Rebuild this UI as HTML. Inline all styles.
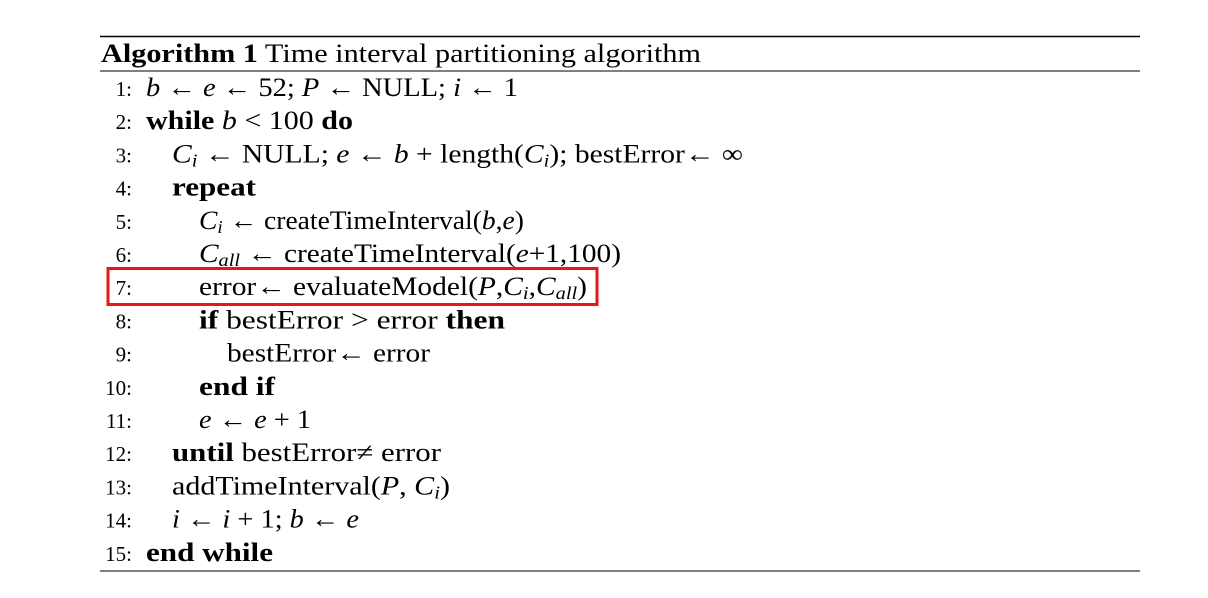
<!DOCTYPE html>
<html><head><meta charset="utf-8"><style>
html,body{margin:0;padding:0;background:#fff;width:1208px;height:598px;overflow:hidden}
svg{display:block}
text{font-family:"Liberation Serif",serif;fill:#000}
.num{font-size:21px}
.ln{font-size:26px}
</style></head><body>
<svg width="1208" height="598" viewBox="0 0 1208 598">
<line x1="100" y1="36.5" x2="1140" y2="36.5" stroke="#000" stroke-width="1.6"/>
<text x="101" y="62" class="ln" textLength="600" lengthAdjust="spacingAndGlyphs"><tspan font-weight="bold">Algorithm 1</tspan> Time interval partitioning algorithm</text>
<line x1="100" y1="71" x2="1140" y2="71" stroke="#000" stroke-width="1"/>

<g>
<text class="num" x="132" y="96" text-anchor="end">1:</text>
<text class="num" x="132" y="129.2" text-anchor="end">2:</text>
<text class="num" x="132" y="162.4" text-anchor="end">3:</text>
<text class="num" x="132" y="195.6" text-anchor="end">4:</text>
<text class="num" x="132" y="228.8" text-anchor="end">5:</text>
<text class="num" x="132" y="262" text-anchor="end">6:</text>
<text class="num" x="132" y="295.2" text-anchor="end">7:</text>
<text class="num" x="132" y="328.4" text-anchor="end">8:</text>
<text class="num" x="132" y="361.6" text-anchor="end">9:</text>
<text class="num" x="132" y="394.8" text-anchor="end">10:</text>
<text class="num" x="132" y="428" text-anchor="end">11:</text>
<text class="num" x="132" y="461.2" text-anchor="end">12:</text>
<text class="num" x="132" y="494.4" text-anchor="end">13:</text>
<text class="num" x="132" y="527.6" text-anchor="end">14:</text>
<text class="num" x="132" y="560.8" text-anchor="end">15:</text>
</g>

<text class="ln" x="146" y="96" textLength="372" lengthAdjust="spacingAndGlyphs"><tspan font-style="italic">b</tspan> ← <tspan font-style="italic">e</tspan> ← 52; <tspan font-style="italic">P</tspan> ← NULL; <tspan font-style="italic">i</tspan> ← 1</text>
<text class="ln" x="146" y="129.2" textLength="207" lengthAdjust="spacingAndGlyphs"><tspan font-weight="bold">while</tspan> <tspan font-style="italic">b</tspan> &lt; 100 <tspan font-weight="bold">do</tspan></text>
<text class="ln" x="172" y="162.4" textLength="571" lengthAdjust="spacingAndGlyphs"><tspan font-style="italic">C<tspan font-size="18" dy="4">i</tspan></tspan><tspan dy="-4"> ← NULL; </tspan><tspan font-style="italic">e</tspan> ← <tspan font-style="italic">b</tspan> + length(<tspan font-style="italic">C<tspan font-size="18" dy="4">i</tspan></tspan><tspan dy="-4">); bestError← ∞</tspan></text>
<text class="ln" x="172" y="195.6" textLength="84" lengthAdjust="spacingAndGlyphs" font-weight="bold">repeat</text>
<text class="ln" x="199" y="228.8" textLength="325" lengthAdjust="spacingAndGlyphs"><tspan font-style="italic">C<tspan font-size="18" dy="4">i</tspan></tspan><tspan dy="-4"> ← createTimeInterval(</tspan><tspan font-style="italic">b</tspan>,<tspan font-style="italic">e</tspan>)</text>
<text class="ln" x="199" y="262" textLength="422" lengthAdjust="spacingAndGlyphs"><tspan font-style="italic">C<tspan font-size="18" dy="4">all</tspan></tspan><tspan dy="-4"> ← createTimeInterval(</tspan><tspan font-style="italic">e</tspan>+1,100)</text>
<text class="ln" x="199" y="295.2" textLength="388" lengthAdjust="spacingAndGlyphs">error← evaluateModel(<tspan font-style="italic">P</tspan>,<tspan font-style="italic">C<tspan font-size="18" dy="4">i</tspan></tspan><tspan dy="-4">,</tspan><tspan font-style="italic">C<tspan font-size="18" dy="4">all</tspan></tspan><tspan dy="-4">)</tspan></text>
<text class="ln" x="199" y="328.4" textLength="306" lengthAdjust="spacingAndGlyphs"><tspan font-weight="bold">if</tspan> bestError &gt; error <tspan font-weight="bold">then</tspan></text>
<text class="ln" x="227" y="361.6" textLength="203" lengthAdjust="spacingAndGlyphs">bestError← error</text>
<text class="ln" x="199" y="394.8" textLength="76" lengthAdjust="spacingAndGlyphs" font-weight="bold">end if</text>
<text class="ln" x="199" y="428" textLength="112" lengthAdjust="spacingAndGlyphs"><tspan font-style="italic">e</tspan> ← <tspan font-style="italic">e</tspan> + 1</text>
<text class="ln" x="172" y="461.2" textLength="269" lengthAdjust="spacingAndGlyphs"><tspan font-weight="bold">until</tspan> bestError≠ error</text>
<text class="ln" x="172" y="494.4" textLength="278" lengthAdjust="spacingAndGlyphs">addTimeInterval(<tspan font-style="italic">P</tspan>, <tspan font-style="italic">C<tspan font-size="18" dy="4">i</tspan></tspan><tspan dy="-4">)</tspan></text>
<text class="ln" x="172" y="527.6" textLength="187" lengthAdjust="spacingAndGlyphs"><tspan font-style="italic">i</tspan> ← <tspan font-style="italic">i</tspan> + 1; <tspan font-style="italic">b</tspan> ← <tspan font-style="italic">e</tspan></text>
<text class="ln" x="146" y="560.8" textLength="127" lengthAdjust="spacingAndGlyphs" font-weight="bold">end while</text>

<rect x="108" y="268.5" width="489" height="36" fill="none" stroke="#e8151b" stroke-width="3"/>
<line x1="100" y1="571" x2="1140" y2="571" stroke="#000" stroke-width="1"/>
</svg>
</body></html>
